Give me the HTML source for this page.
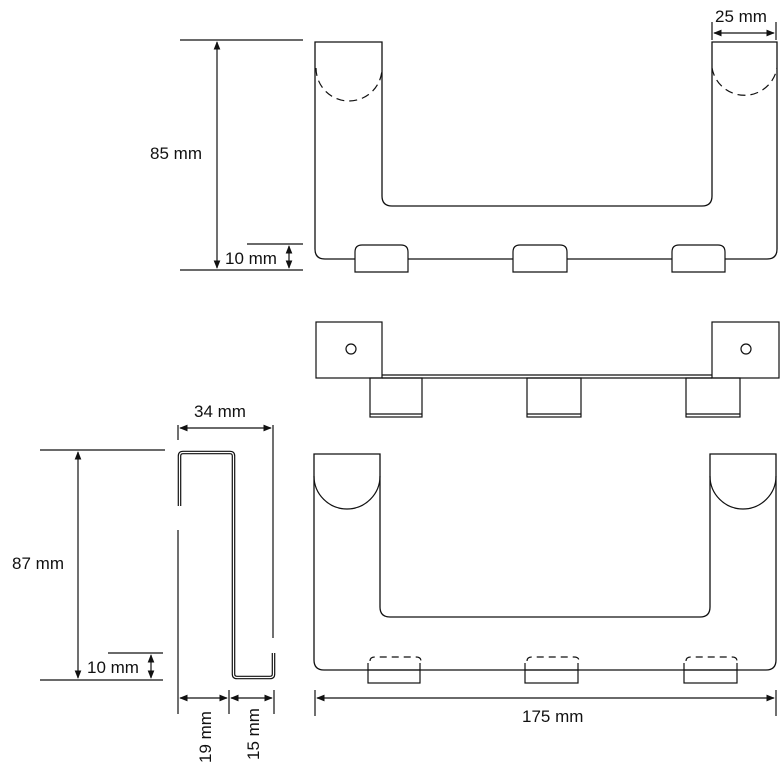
<!DOCTYPE html>
<html><head><meta charset="utf-8"><style>
html,body{margin:0;padding:0;background:#fff;}
svg{display:block;}
text{font-family:"Liberation Sans","DejaVu Sans",sans-serif;font-size:17px;fill:#111;}
</style></head><body>
<svg width="783" height="769" viewBox="0 0 783 769" xmlns="http://www.w3.org/2000/svg">
<defs>
<marker id="a" viewBox="0 0 10 10" refX="9" refY="5" markerWidth="7" markerHeight="7" orient="auto-start-reverse"><path d="M0,1 L10,5 L0,9 z" fill="#111"/></marker>
</defs>
<g fill="none" stroke="#111" stroke-width="1.2">
<!-- TOP VIEW -->
<path d="M315,42 H382 V196 Q382,206 392,206 H702 Q712,206 712,196 V42 H777 V249 Q777,259 767,259 H325 Q315,259 315,249 V42 Z" fill="#fff" stroke-width="1.3"/>
<path d="M316,68 A33,33 0 0 0 382,68" stroke-dasharray="8,5"/>
<path d="M712,68 A33,33 0 0 0 777,68" stroke-dasharray="8,5"/>
<path d="M355,272 V252 Q355,245 362,245 H401 Q408,245 408,252 V272 Z" fill="#fff"/>
<path d="M513,272 V252 Q513,245 520,245 H560 Q567,245 567,252 V272 Z" fill="#fff"/>
<path d="M672,272 V252 Q672,245 679,245 H718 Q725,245 725,252 V272 Z" fill="#fff"/>
<!-- dims top -->
<line x1="180" y1="40" x2="303" y2="40"/>
<line x1="180" y1="270" x2="303" y2="270"/>
<line x1="217" y1="42" x2="217" y2="268" marker-start="url(#a)" marker-end="url(#a)"/>
<line x1="247" y1="244" x2="303" y2="244"/>
<line x1="289" y1="246" x2="289" y2="268" marker-start="url(#a)" marker-end="url(#a)"/>
<line x1="712" y1="22" x2="712" y2="40"/>
<line x1="776" y1="22" x2="776" y2="40"/>
<line x1="714" y1="33" x2="774" y2="33" marker-start="url(#a)" marker-end="url(#a)"/>

<!-- MIDDLE VIEW -->
<rect x="316" y="322" width="66" height="56"/>
<rect x="712" y="322" width="67" height="56"/>
<line x1="382" y1="375" x2="712" y2="375"/>
<line x1="382" y1="378" x2="712" y2="378"/>
<circle cx="351" cy="349" r="5"/>
<circle cx="746" cy="349" r="5"/>
<rect x="370" y="378" width="52" height="39"/>
<line x1="370" y1="414" x2="422" y2="414"/>
<rect x="527" y="378" width="54" height="39"/>
<line x1="527" y1="414" x2="581" y2="414"/>
<rect x="686" y="378" width="54" height="39"/>
<line x1="686" y1="414" x2="740" y2="414"/>

<!-- FRONT VIEW -->
<path d="M314,454 H380 V607 Q380,617 390,617 H700 Q710,617 710,607 V454 H776 V660 Q776,670 766,670 H324 Q314,670 314,660 Z" fill="#fff" stroke-width="1.3"/>
<path d="M314,476 A33,33 0 0 0 380,476"/>
<path d="M710,476 A33,33 0 0 0 776,476"/>
<path d="M370,661 Q370,657 375,657 H416 Q421,657 421,661" stroke-dasharray="7,5"/>
<path d="M527,661 Q527,657 532,657 H574 Q579,657 579,661" stroke-dasharray="7,5"/>
<path d="M686,661 Q686,657 691,657 H732 Q737,657 737,661" stroke-dasharray="7,5"/>
<rect x="368" y="670" width="52" height="13"/>
<line x1="368" y1="663" x2="368" y2="670"/><line x1="420" y1="663" x2="420" y2="670"/>
<rect x="525" y="670" width="53" height="13"/>
<line x1="525" y1="663" x2="525" y2="670"/><line x1="578" y1="663" x2="578" y2="670"/>
<rect x="684" y="670" width="53" height="13"/>
<line x1="684" y1="663" x2="684" y2="670"/><line x1="737" y1="663" x2="737" y2="670"/>
<line x1="315" y1="690" x2="315" y2="716"/>
<line x1="776" y1="690" x2="776" y2="716"/>
<line x1="317" y1="698" x2="774" y2="698" marker-start="url(#a)" marker-end="url(#a)"/>

<!-- SIDE PROFILE -->
<path d="M179.5,506 V456 Q179.5,452.5 183,452.5 H230 Q233.5,452.5 233.5,456 V674 Q233.5,677.5 237,677.5 H270 Q273.5,677.5 273.5,674 V653" stroke-width="3.6"/>
<path d="M179.5,506 V456 Q179.5,452.5 183,452.5 H230 Q233.5,452.5 233.5,456 V674 Q233.5,677.5 237,677.5 H270 Q273.5,677.5 273.5,674 V653" stroke="#fff" stroke-width="1.2"/>
<line x1="178" y1="530" x2="178" y2="714"/>
<line x1="178" y1="425" x2="178" y2="440"/>
<line x1="273" y1="425" x2="273" y2="638"/>
<line x1="180" y1="428" x2="271" y2="428" marker-start="url(#a)" marker-end="url(#a)"/>
<line x1="229" y1="690" x2="229" y2="714"/>
<line x1="274" y1="690" x2="274" y2="714"/>
<line x1="180" y1="698" x2="227" y2="698" marker-start="url(#a)" marker-end="url(#a)"/>
<line x1="231" y1="698" x2="272" y2="698" marker-start="url(#a)" marker-end="url(#a)"/>
<!-- left dims -->
<line x1="40" y1="450" x2="165" y2="450"/>
<line x1="40" y1="680" x2="163" y2="680"/>
<line x1="78" y1="452" x2="78" y2="678" marker-start="url(#a)" marker-end="url(#a)"/>
<line x1="108" y1="653" x2="163" y2="653"/>
<line x1="151" y1="655" x2="151" y2="678" marker-start="url(#a)" marker-end="url(#a)"/>
</g>
<text x="202" y="159" text-anchor="end">85 mm</text>
<text x="225" y="264">10 mm</text>
<text x="715" y="22">25 mm</text>
<text x="194" y="417">34 mm</text>
<text x="64" y="569" text-anchor="end">87 mm</text>
<text x="87" y="673">10 mm</text>
<text x="522" y="722">175 mm</text>
<text transform="translate(211,763) rotate(-90)">19 mm</text>
<text transform="translate(259,760) rotate(-90)">15 mm</text>
</svg>
</body></html>
